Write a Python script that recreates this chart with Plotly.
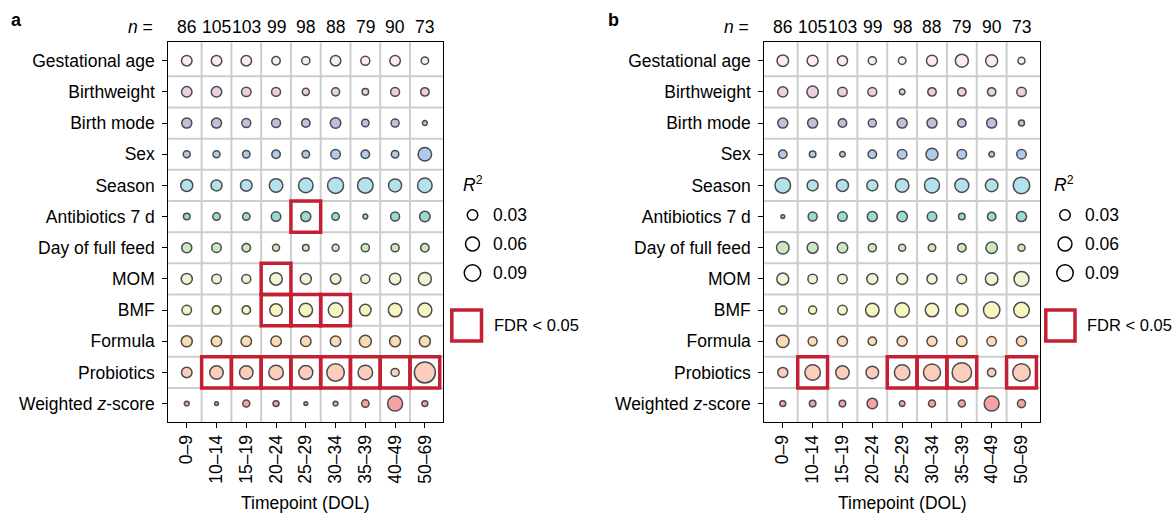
import plotly.graph_objects as go
import math

W, H = 1176, 513

variables = ["Gestational age", "Birthweight", "Birth mode", "Sex", "Season",
             "Antibiotics 7 d", "Day of full feed", "MOM", "BMF", "Formula",
             "Probiotics", "Weighted <i>z</i>-score"]
timepoints = ["0–9", "10–14", "15–19", "20–24", "25–29", "30–34", "35–39", "40–49", "50–69"]
n_counts = [86, 105, 103, 99, 98, 88, 79, 90, 73]
row_colors = ["#FBE3EE", "#E6BAD7", "#A9A3D3", "#8EB6E3", "#94D7E6", "#70CBBF",
              "#BADDAA", "#EAF0C2", "#F4F3A8", "#FDCB94", "#F9B8A0", "#F27B7C"]

r2_a = [
    [0.030, 0.030, 0.030, 0.017, 0.015, 0.030, 0.020, 0.030, 0.012],
    [0.030, 0.030, 0.023, 0.020, 0.010, 0.015, 0.008, 0.020, 0.017],
    [0.027, 0.027, 0.020, 0.020, 0.017, 0.030, 0.012, 0.015, 0.003],
    [0.010, 0.010, 0.012, 0.017, 0.012, 0.023, 0.017, 0.012, 0.056],
    [0.042, 0.034, 0.038, 0.056, 0.067, 0.084, 0.078, 0.051, 0.067],
    [0.008, 0.012, 0.012, 0.023, 0.027, 0.012, 0.003, 0.020, 0.030],
    [0.027, 0.023, 0.017, 0.010, 0.008, 0.010, 0.015, 0.015, 0.017],
    [0.034, 0.023, 0.020, 0.047, 0.034, 0.030, 0.020, 0.038, 0.051],
    [0.023, 0.017, 0.017, 0.047, 0.056, 0.067, 0.038, 0.056, 0.061],
    [0.034, 0.030, 0.030, 0.030, 0.030, 0.030, 0.042, 0.034, 0.034],
    [0.030, 0.056, 0.056, 0.067, 0.061, 0.103, 0.067, 0.015, 0.156],
    [0.003, 0.001, 0.010, 0.006, 0.001, 0.003, 0.012, 0.072, 0.006],
]
r2_b = [
    [0.038, 0.034, 0.027, 0.015, 0.012, 0.034, 0.051, 0.042, 0.010],
    [0.027, 0.038, 0.023, 0.020, 0.005, 0.017, 0.017, 0.017, 0.023],
    [0.027, 0.027, 0.017, 0.015, 0.027, 0.027, 0.017, 0.027, 0.006],
    [0.017, 0.008, 0.005, 0.017, 0.023, 0.042, 0.023, 0.005, 0.023],
    [0.078, 0.034, 0.042, 0.034, 0.056, 0.072, 0.061, 0.047, 0.090],
    [0.001, 0.020, 0.023, 0.027, 0.030, 0.023, 0.008, 0.017, 0.027],
    [0.047, 0.034, 0.030, 0.015, 0.010, 0.012, 0.017, 0.038, 0.010],
    [0.042, 0.023, 0.023, 0.034, 0.034, 0.027, 0.023, 0.047, 0.072],
    [0.015, 0.015, 0.023, 0.056, 0.067, 0.056, 0.047, 0.090, 0.078],
    [0.047, 0.020, 0.027, 0.017, 0.027, 0.027, 0.030, 0.023, 0.027],
    [0.027, 0.078, 0.056, 0.047, 0.078, 0.097, 0.132, 0.017, 0.103],
    [0.006, 0.008, 0.008, 0.030, 0.005, 0.010, 0.010, 0.072, 0.015],
]
# significant cells (FDR < 0.05): (variable, timepoint)
fdr_a = [("Antibiotics 7 d", "25–29"), ("MOM", "20–24"),
         ("BMF", "20–24"), ("BMF", "25–29"), ("BMF", "30–34"),
         ("Probiotics", "10–14"), ("Probiotics", "15–19"), ("Probiotics", "20–24"),
         ("Probiotics", "25–29"), ("Probiotics", "30–34"), ("Probiotics", "35–39"),
         ("Probiotics", "40–49"), ("Probiotics", "50–69")]
fdr_b = [("Probiotics", "10–14"), ("Probiotics", "25–29"), ("Probiotics", "30–34"),
         ("Probiotics", "35–39"), ("Probiotics", "50–69")]
legend_r2 = [0.03, 0.06, 0.09]

FONT = "Liberation Sans, Arial, Helvetica, sans-serif"
FS = 17.5
RED = "#C41F33"
GRID = "#CDCDCD"
LW = 1.5


def diam(r2):
    return 3.8 + 47.3 * math.sqrt(r2)


fig = go.Figure()

panels = [
    dict(data=r2_a, fdr=fdr_a, xa="x", ya="y", x0px=168.3, x1px=443.3, label="a", labx=16,
         leg_cx=472.5, leg_tx=491, leg_rx=461, box_x0=451.8, box_x1=481.5, fdr_tx=492),
    dict(data=r2_b, fdr=fdr_b, xa="x2", ya="y2", x0px=764.3, x1px=1040.0, label="b", labx=613,
         leg_cx=1065, leg_tx=1083, leg_rx=1052, box_x0=1045.8, box_x1=1075, fdr_tx=1085),
]

ytop_px, ybot_px = 42.3, 422.0
ncol, nrow = len(timepoints), len(variables)
xs = list(range(1, ncol + 1))
ys = list(range(1, nrow + 1))

shapes = []
annotations = []

for p in panels:
    for i, var in enumerate(variables):
        sizes = [diam(v) - LW for v in p["data"][i]]
        fig.add_trace(go.Scatter(
            x=xs, y=[i + 1] * ncol, mode="markers", xaxis=p["xa"], yaxis=p["ya"],
            marker=dict(size=sizes, color=row_colors[i], line=dict(color="black", width=LW)),
            showlegend=False, hoverinfo="skip"))
    xref = p["xa"]
    yref = p["ya"]
    # grid lines between cells
    for k in range(1, ncol):
        shapes.append(dict(type="line", xref=xref, yref=yref + " domain", x0=k + 0.5, x1=k + 0.5,
                           y0=0, y1=1, line=dict(color=GRID, width=2), layer="below"))
    for k in range(1, nrow):
        shapes.append(dict(type="line", xref=xref + " domain", yref=yref, x0=0, x1=1,
                           y0=k + 0.5, y1=k + 0.5, line=dict(color=GRID, width=2), layer="below"))
    # FDR boxes
    for var, tp in p["fdr"]:
        cx = timepoints.index(tp) + 1
        cy = variables.index(var) + 1
        shapes.append(dict(type="rect", xref=xref, yref=yref, x0=cx - 0.5, x1=cx + 0.5,
                           y0=cy - 0.5, y1=cy + 0.5, line=dict(color=RED, width=3.5),
                           fillcolor="rgba(0,0,0,0)", layer="above"))
    # n counts
    for j, n in enumerate(n_counts):
        annotations.append(dict(x=j + 1, xref=xref, y=1 - 27 / H, yref="paper", text=str(n),
                                showarrow=False, font=dict(family=FONT, size=FS, color="black"),
                                xanchor="center", yanchor="middle"))
    annotations.append(dict(x=(p["x0px"] - 13) / W, xref="paper", y=1 - 27 / H, yref="paper",
                            text="<i>n</i> =", showarrow=False,
                            font=dict(family=FONT, size=FS, color="black"),
                            xanchor="right", yanchor="middle"))
    # panel label
    annotations.append(dict(x=p["labx"] / W, xref="paper", y=1 - 20 / H, yref="paper",
                            text="<b>" + p["label"] + "</b>", showarrow=False,
                            font=dict(family=FONT, size=18, color="black"),
                            xanchor="center", yanchor="middle"))
    # x title
    annotations.append(dict(x=(p["x0px"] + p["x1px"]) / 2 / W, xref="paper", y=1 - 503 / H,
                            yref="paper", text="Timepoint (DOL)", showarrow=False,
                            font=dict(family=FONT, size=FS, color="black"),
                            xanchor="center", yanchor="middle"))
    # R2 legend
    annotations.append(dict(x=p["leg_rx"] / W, xref="paper", y=1 - 184 / H, yref="paper",
                            text="<i>R</i><sup>2</sup>", showarrow=False,
                            font=dict(family=FONT, size=FS, color="black"),
                            xanchor="left", yanchor="middle"))
    for k, v in enumerate(legend_r2):
        cy_px = 215 + 29 * k
        r = (diam(v) - LW) / 2
        shapes.append(dict(type="circle", xref="paper", yref="paper", xsizemode="pixel",
                           ysizemode="pixel", xanchor=p["leg_cx"] / W, yanchor=1 - cy_px / H,
                           x0=-r, x1=r, y0=-r, y1=r, line=dict(color="black", width=LW),
                           fillcolor="white"))
        annotations.append(dict(x=p["leg_tx"] / W, xref="paper", y=1 - cy_px / H, yref="paper",
                                text=f"{v:.2f}", showarrow=False,
                                font=dict(family=FONT, size=FS, color="black"),
                                xanchor="left", yanchor="middle"))
    shapes.append(dict(type="rect", xref="paper", yref="paper", x0=p["box_x0"] / W,
                       x1=p["box_x1"] / W, y0=1 - 341 / H, y1=1 - 310 / H,
                       line=dict(color=RED, width=3.5), fillcolor="rgba(0,0,0,0)"))
    annotations.append(dict(x=p["fdr_tx"] / W, xref="paper", y=1 - 325 / H, yref="paper",
                            text="FDR < 0.05", showarrow=False,
                            font=dict(family=FONT, size=16.5, color="black"),
                            xanchor="left", yanchor="middle"))

ydom = [1 - ybot_px / H, 1 - ytop_px / H]
xrange_ = [0.38, ncol + 0.62]
yrange_ = [nrow + 0.59, 0.41]

common_x = dict(range=xrange_, tickvals=xs, ticktext=timepoints, tickangle=-90,
                showgrid=False, zeroline=False, showline=True, mirror=True, linecolor="black",
                linewidth=1, ticks="outside", ticklen=5, tickcolor="black", tickwidth=1,
                tickfont=dict(family=FONT, size=FS, color="black"), fixedrange=True)
common_y = dict(range=yrange_, tickvals=ys, ticktext=variables, domain=ydom,
                showgrid=False, zeroline=False, showline=True, mirror=True, linecolor="black",
                linewidth=1, ticks="outside", ticklen=5, tickcolor="black", tickwidth=1,
                tickfont=dict(family=FONT, size=FS, color="black"), fixedrange=True,
                ticklabelstandoff=4)

fig.update_layout(
    width=W, height=H, margin=dict(l=0, r=0, t=0, b=0),
    paper_bgcolor="white", plot_bgcolor="white",
    xaxis=dict(domain=[168.3 / W, 443.3 / W], anchor="y", **common_x),
    yaxis=dict(anchor="x", **common_y),
    xaxis2=dict(domain=[764.3 / W, 1040.0 / W], anchor="y2", **common_x),
    yaxis2=dict(anchor="x2", **common_y),
    shapes=shapes, annotations=annotations, showlegend=False,
)

fig.write_html("out.html", config=dict(displayModeBar=False))
